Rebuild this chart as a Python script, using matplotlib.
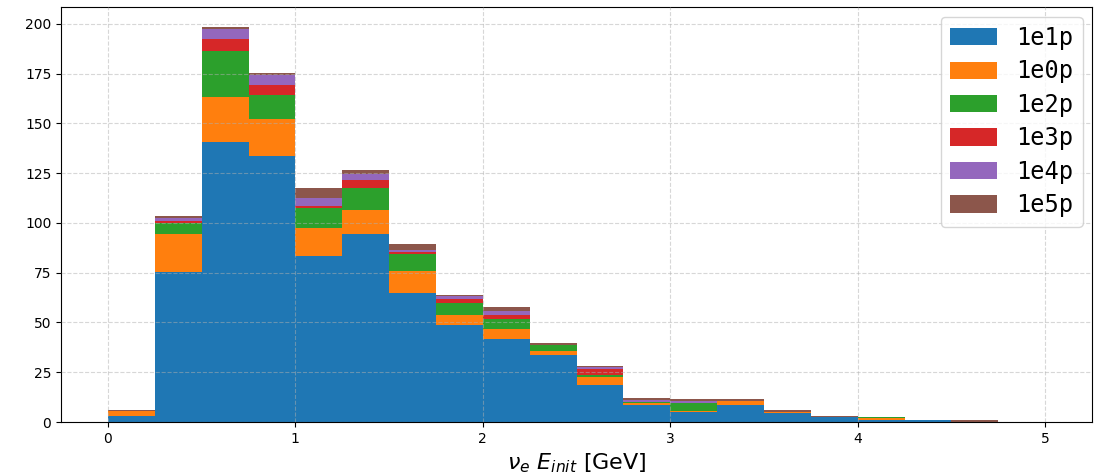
#!/usr/bin/env python3
import numpy as np
from matplotlib import pyplot as plt

# bin edges in GeV, 0.25 wide
edges = np.arange(0, 5.001, 0.25)
centers = 0.5 * (edges[:-1] + edges[1:])

labels = ['1e1p', '1e0p', '1e2p', '1e3p', '1e4p', '1e5p']

# counts per bin
n_1e1p = [2.8, 75.5, 140.7, 133.8, 83.4, 94.5, 65.0, 48.7, 41.7, 33.7,
          18.6, 8.5, 5.0, 8.5, 4.5, 2.5, 0.8, 0.8, 0, 0]
n_1e0p = [2.7, 19.0, 22.6, 18.5, 14.1, 12.0, 10.9, 5.1, 5.0, 2.0,
          4.0, 1.0, 0.5, 2.1, 0.7, 0, 1.2, 0, 0, 0]
n_1e2p = [0, 5.7, 23.1, 11.9, 10.0, 11.1, 8.5, 6.0, 5.1, 2.8,
          1.0, 0.5, 3.9, 0, 0, 0, 0.7, 0, 0, 0]
n_1e3p = [0, 1.0, 6.1, 5.1, 1.0, 4.0, 1.0, 2.0, 2.0, 0,
          3.0, 0, 0, 0, 0, 0, 0, 0, 0, 0]
n_1e4p = [0, 1.3, 5.0, 5.1, 4.1, 3.0, 1.0, 1.7, 2.0, 0,
          1.0, 1.0, 1.2, 0, 0, 0, 0, 0, 0, 0]
n_1e5p = [0.5, 1.0, 1.0, 1.0, 5.0, 2.0, 3.0, 0.3, 2.0, 1.2,
          0.5, 0.9, 1.0, 1.0, 0.8, 0.5, 0, 0, 0.8, 0]

weights = [n_1e1p, n_1e0p, n_1e2p, n_1e3p, n_1e4p, n_1e5p]

fig = plt.figure(figsize=(10.96, 4.76), dpi=100)
ax = fig.add_axes([0.0557, 0.1134, 0.9407, 0.8716])

ax.hist([centers] * len(weights), bins=edges, weights=weights,
        stacked=True, label=labels,
        color=['C0', 'C1', 'C2', 'C3', 'C4', 'C5'])

ax.grid(True, linestyle='--', alpha=0.5)
ax.set_axisbelow(False)
ax.set_xlabel(r'$\nu_e$ $E_{init}$ [GeV]', fontsize=16)
ax.legend(loc='upper right', prop={'family': 'DejaVu Sans Mono', 'size': 17},
          labelspacing=0.4, handleheight=0.75, borderaxespad=0.4)

plt.savefig('out.png', dpi=100)
